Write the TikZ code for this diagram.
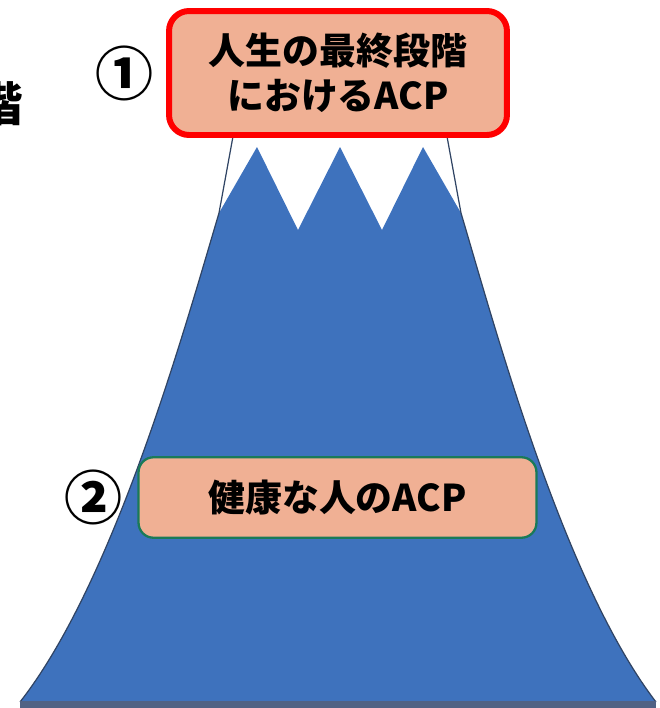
\documentclass[tikz,border=0pt]{standalone}
\usepackage{fontspec}
\setmainfont{Noto Sans CJK JP}
\definecolor{mtblue}{RGB}{62,114,189}
\definecolor{mtedge}{RGB}{48,68,100}
\definecolor{mtbase}{RGB}{80,98,132}
\definecolor{boxfill}{RGB}{240,176,148}
\definecolor{boxgreen}{RGB}{26,122,88}

\begin{document}
\begin{tikzpicture}[x=0.02cm, y=-0.02cm,
  stage/.style={draw, fill=boxfill, align=center, inner sep=0pt,
                font=\bfseries\fontsize{21}{25.5}\selectfont},
  num/.style={font=\bfseries\fontsize{33}{33}\selectfont}
]
\useasboundingbox (0,0) rectangle (660,708);
% mountain with three peaks
\fill[mtblue] (20,702) .. controls (114,582) and (184,331) .. (219,213)
  -- (257,147) -- (298,230) -- (340,147) -- (382,230) -- (423,147)
  -- (461,213) .. controls (496,331) and (564,582) .. (656,702) -- cycle;
\draw[mtedge, line width=0.7pt] (236,120) -- (219,213)
  .. controls (184,331) and (114,582) .. (20,702);
\draw[mtedge, line width=0.7pt] (444,120) -- (461,213)
  .. controls (496,331) and (564,582) .. (656,702);
\fill[mtbase] (20,701) rectangle (656,708);

\node[stage, draw=red, line width=3.4pt, rounded corners=0.4cm,
      minimum width=6.76cm, minimum height=2.48cm] (last) at (338,73)
  {人生の最終段階\\におけるACP};
\node[num] (n1) at (124,73) {①};

\node[stage, draw=boxgreen, line width=1.3pt, rounded corners=0.3cm,
      minimum width=7.96cm, minimum height=1.61cm] (well) at (337.5,497.5)
  {健康な人のACP};
\node[num] (n2) at (93,497) {②};

\node[font=\bfseries\fontsize{27}{27}\selectfont] (cut) at (-1,104) {階};
\end{tikzpicture}
\end{document}
